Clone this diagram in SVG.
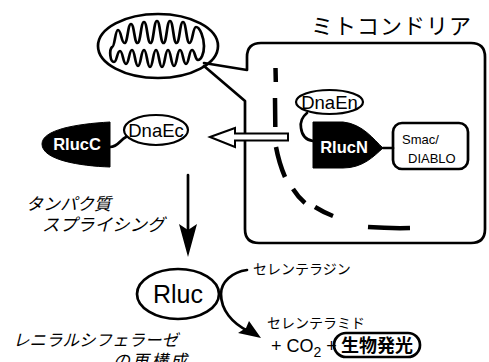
<svg xmlns="http://www.w3.org/2000/svg" width="489" height="362" viewBox="0 0 489 362">
  <style>
    .ln { fill: none; stroke: #000; stroke-width: 2.7; stroke-linecap: round; stroke-linejoin: round; }
    .thin { fill: none; stroke: #000; stroke-width: 2.2; }
    .blk { fill: #000; stroke: #000; stroke-width: 1; }
    .lat { font-family: "Liberation Sans", "Noto Sans CJK JP", sans-serif; fill: #000; }
    .jp { font-family: "Noto Sans CJK JP", "Liberation Sans", sans-serif; fill: #000; }
    .it { font-style: italic; }
    .memb { fill: none; stroke: #000; stroke-width: 4.5; stroke-linecap: butt; }
  </style>
  <rect width="489" height="362" fill="#fff"/>

  <!-- mitochondrion icon -->
  <g id="mitochondrion">
    <ellipse cx="158" cy="46" rx="60" ry="32" class="ln"/>
    <path class="ln" d="M112,47 C115,47 115,30 118,30 C121.25,30 121.25,43 124.5,43 C127.75,43 127.75,24 131,24 C134.25,24 134.25,43 137.5,43 C140.75,43 140.75,22 144,22 C147.25,22 147.25,43 150.5,43 C153.75,43 153.75,21 157,21 C160.25,21 160.25,43 163.5,43 C166.75,43 166.75,21 170,21 C173.25,21 173.25,43 176.5,43 C179.75,43 179.75,22 183,22 C186.25,22 186.25,43 189.5,43 C192.75,43 192.75,27 196,27 C200,27 204,38 204,46 C204,54 201,60 198,60 C195,60 195,50 192,50 C189,50 189,64 186,64 C183,64 183,50 180,50 C177,50 177,66 174,66 C171,66 171,50 168,50 C165,50 165,67 162,67 C159,67 159,50 156,50 C153,50 153,67 150,67 C147,67 147,50 144,50 C141,50 141,66 138,66 C135,66 135,50 132,50 C129,50 129,64 126,64 C123,64 123,51 120,51 C117,51 117,62 114,62 C110,62 109,50 112,47 Z"/>
  </g>

  <!-- enlarged mitochondrion compartment with callout -->
  <g id="compartment">
    <path class="ln" d="M204,63 L247,70 L247,57 Q247,43 261,43 L471,43 Q485,43 485,57 L485,229 Q485,243 471,243 L259,243 Q245,243 245,229 L245,101 L204,66"/>
    <text class="jp" x="311" y="34" font-size="22" letter-spacing="1">ミトコンドリア</text>
    <!-- outer membrane (dashed) -->
    <path class="memb" d="M275.5,68 L275.8,82 M275,98 L275.3,127 M276,147 Q279,163 285,177 M293,189 Q298,197 305,203 M315,207 Q323,212 333,216 M368,227 Q390,228.5 410,228"/>
  </g>

  <!-- RlucC fragment -->
  <g id="rlucC">
    <path class="blk" d="M110,122 L110,167 C80,166 42,160 42,144 C42,130 75,124 110,122 Z"/>
    <text class="lat" x="77" y="150" font-size="16.5" font-weight="bold" text-anchor="middle" style="fill:#fff">RlucC</text>
  </g>

  <!-- DnaEc intein -->
  <g id="dnaEc">
    <ellipse cx="156" cy="130" rx="32" ry="15" class="thin"/>
    <text class="lat" x="156" y="137" font-size="18.5" text-anchor="middle">DnaEc</text>
  </g>

  <!-- RlucN fragment -->
  <g id="rlucN">
    <path class="blk" d="M313,122 L343,122 C363,124 374,140 383,148 C374,156 363,168 343,168 L313,168 Z"/>
    <text class="lat" x="344" y="153" font-size="16.5" font-weight="bold" text-anchor="middle" style="fill:#fff">RlucN</text>
  </g>

  <!-- DnaEn intein -->
  <g id="dnaEn">
    <ellipse cx="329.5" cy="102" rx="33.5" ry="12" class="thin"/>
    <text class="lat" x="329.5" y="108.5" font-size="18.5" text-anchor="middle">DnaEn</text>
  </g>

  <!-- Smac/DIABLO -->
  <g id="smac">
    <rect x="393" y="123" width="75" height="46" rx="9" class="ln"/>
    <text class="lat" x="402" y="144" font-size="13">Smac/</text>
    <text class="lat" x="408" y="163" font-size="13">DIABLO</text>
  </g>

  <!-- reconstituted luciferase -->
  <g id="rluc">
    <ellipse cx="178" cy="294" rx="41" ry="25" class="ln"/>
    <text class="lat" x="178" y="303" font-size="25" text-anchor="middle">Rluc</text>
  </g>

  <!-- labels -->
  <g id="labels">
    <text class="jp it" x="26" y="210" font-size="17">タンパク質</text>
    <text class="jp it" x="42" y="231" font-size="17.5">スプライシング</text>
    <text class="jp" x="253" y="274" font-size="14">セレンテラジン</text>
    <text class="jp" x="267" y="328" font-size="14">セレンテラミド</text>
    <text class="lat" x="271" y="352" font-size="18">+ CO<tspan font-size="14" dy="5">2</tspan><tspan dy="-5"> +</tspan></text>
    <text class="jp it" x="13" y="346" font-size="16.5">レニラルシフェラーゼ</text>
    <text class="jp it" x="113" y="367" font-size="17" letter-spacing="2">の再構成</text>
  </g>

  <!-- bioluminescence -->
  <g id="luminescence">
    <rect x="334" y="333" width="86" height="24" rx="12" class="ln"/>
    <text class="jp" x="377" y="352" font-size="18" font-weight="bold" text-anchor="middle">生物発光</text>
  </g>

  <!-- connectors -->
  <g id="connectors">
    <!-- linkers -->
    <path class="ln" stroke-width="3" d="M110,147 C118,147 120,140 126,137"/>
    <path class="ln" stroke-width="3" d="M307,113 C302,117 300,122 301,128 C302,136 306,140 313,141"/>
    <line class="ln" stroke-width="3" x1="383" y1="148" x2="393" y2="148"/>
    <!-- release arrow (hollow) -->
    <path fill="#fff" stroke="#000" stroke-width="2" stroke-linejoin="miter" d="M210,137 L235,128 L235,133.5 L288,133.5 L288,140.5 L235,140.5 L235,147 Z"/>
    <!-- splicing arrow -->
    <line class="ln" x1="188" y1="175" x2="188" y2="230"/>
    <path fill="#000" d="M179,224 L188,230 L197,224 L188,257 Z"/>
    <!-- substrate to product -->
    <path class="ln" d="M247,270 C232,272 221,282 221,294 C221,310 232,323 248,331"/>
    <path fill="#000" d="M261,338 L238,333 L246,328 L249,321 Z"/>
  </g>
</svg>
